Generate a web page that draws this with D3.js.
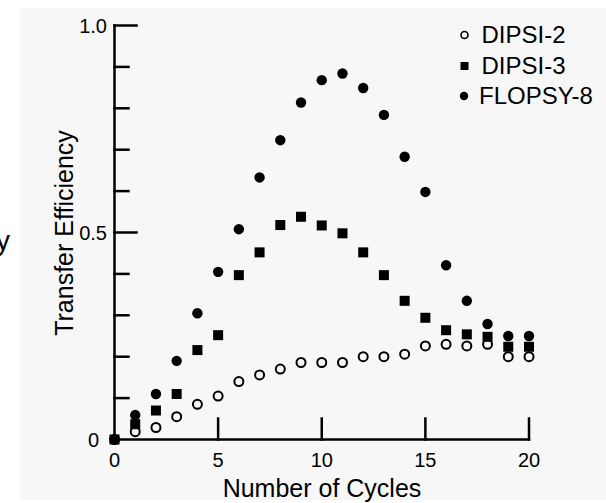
<!DOCTYPE html>
<html>
<head>
<meta charset="utf-8">
<title>Transfer Efficiency</title>
<script src="https://cdnjs.cloudflare.com/ajax/libs/d3/7.8.5/d3.min.js"></script>
<style>
body {
  margin: 0;
  background-color: #ffffff;
}
svg text {
  font-family: "Liberation Sans", Arial, Helvetica, sans-serif;
  fill: #000;
}
</style>
</head>
<body>
<svg width="606" height="503"></svg>
<script>
var cycles = [0, 1, 2, 3, 4, 5, 6, 7, 8, 9, 10, 11, 12, 13, 14, 15, 16, 17, 18, 19, 20];
var dipsi2 = [0, 0.019, 0.029, 0.055, 0.085, 0.105, 0.140, 0.156, 0.170, 0.186, 0.186, 0.186, 0.200, 0.200, 0.206, 0.226, 0.230, 0.226, 0.230, 0.200, 0.200];
var dipsi3 = [0, 0.037, 0.070, 0.110, 0.216, 0.252, 0.397, 0.452, 0.518, 0.538, 0.517, 0.498, 0.452, 0.397, 0.335, 0.294, 0.264, 0.254, 0.248, 0.224, 0.224];
var flopsy8 = [0, 0.059, 0.110, 0.190, 0.305, 0.405, 0.508, 0.633, 0.723, 0.814, 0.868, 0.884, 0.849, 0.784, 0.683, 0.598, 0.421, 0.335, 0.279, 0.250, 0.250];
var seriesNames = ["DIPSI-2", "DIPSI-3", "FLOPSY-8"];
var xTicks = [5, 10, 15, 20];
var xTickLabels = [0, 5, 10, 15, 20];
var yMajor = [0.5, 1.0];
var yMinor = [0.1, 0.2, 0.3, 0.4, 0.6, 0.7, 0.8, 0.9];
var yTickLabels = [0, 0.5, 1.0];

var svg = d3.select("svg");

// grey panel behind the plot
svg.append("rect")
    .attr("x", 20).attr("y", 8)
    .attr("width", 586).attr("height", 492)
    .attr("fill", "#f7f7f7");

// stray glyph at left edge (cut off in the original too)
svg.append("text")
    .attr("x", -4).attr("y", 250)
    .style("font-size", "28px")
    .text("y");

var x = d3.scaleLinear().domain([0, 20]).range([114.5, 529]);
var y = d3.scaleLinear().domain([0, 1]).range([439.5, 25.5]);

var g = svg.append("g");

// y axis
g.append("line")
    .attr("x1", x(0)).attr("x2", x(0))
    .attr("y1", y(1)).attr("y2", y(0));
g.selectAll(".ymaj").data(yMajor)
  .enter().append("line")
    .attr("x1", x(0)).attr("x2", x(0) + 22)
    .attr("y1", function(d) { return y(d); })
    .attr("y2", function(d) { return y(d); });
g.selectAll(".ymin").data(yMinor)
  .enter().append("line")
    .attr("x1", x(0)).attr("x2", x(0) + 14)
    .attr("y1", function(d) { return y(d); })
    .attr("y2", function(d) { return y(d); });

// x axis
g.append("line")
    .attr("x1", x(0)).attr("x2", x(20))
    .attr("y1", y(0)).attr("y2", y(0));
g.selectAll(".xt").data(xTicks)
  .enter().append("line")
    .attr("x1", function(d) { return x(d); })
    .attr("x2", function(d) { return x(d); })
    .attr("y1", y(0)).attr("y2", y(0) - 21);

g.selectAll("line")
    .attr("stroke", "#000")
    .attr("stroke-width", 2.5)
    .attr("stroke-linecap", "square");

// tick labels
g.selectAll(".xl").data(xTickLabels)
  .enter().append("text")
    .attr("x", function(d) { return x(d); })
    .attr("y", 467)
    .attr("text-anchor", "middle")
    .style("font-size", "20px")
    .text(function(d) { return d; });

g.selectAll(".yl").data(yTickLabels)
  .enter().append("text")
    .attr("x", function(d) { return d === 0 ? 99 : 107; })
    .attr("y", function(d) { return y(d) + 7; })
    .attr("text-anchor", "end")
    .style("font-size", "20px")
    .text(function(d) { return d === 0 ? "0" : d3.format(".1f")(d); });

// axis titles
svg.append("text")
    .attr("x", 322).attr("y", 497)
    .attr("text-anchor", "middle")
    .style("font-size", "25px")
    .text("Number of Cycles");

svg.append("text")
    .attr("transform", "translate(73,233) rotate(-90)")
    .attr("text-anchor", "middle")
    .style("font-size", "25px")
    .text("Transfer Efficiency");

// data
var d2 = cycles.map(function(c, i) { return {c: c, v: dipsi2[i]}; });
var d3s = cycles.map(function(c, i) { return {c: c, v: dipsi3[i]}; });
var f8 = cycles.map(function(c, i) { return {c: c, v: flopsy8[i]}; });

g.selectAll(".open").data(d2)
  .enter().append("circle")
    .attr("cx", function(d) { return x(d.c); })
    .attr("cy", function(d) { return y(d.v); })
    .attr("r", 4.5)
    .attr("fill", "#f7f7f7")
    .attr("stroke", "#000")
    .attr("stroke-width", 2);

g.selectAll(".dot").data(f8)
  .enter().append("circle")
    .attr("cx", function(d) { return x(d.c); })
    .attr("cy", function(d) { return y(d.v); })
    .attr("r", 5.2)
    .attr("fill", "#000");

g.selectAll(".sq").data(d3s)
  .enter().append("rect")
    .attr("x", function(d) { return x(d.c) - 5; })
    .attr("y", function(d) { return y(d.v) - 5; })
    .attr("width", 10)
    .attr("height", 10)
    .attr("fill", "#000");

// legend
var legend = svg.append("g");
var ly = [35, 66, 96];
legend.append("circle")
    .attr("cx", 464.5).attr("cy", ly[0]).attr("r", 3.5)
    .attr("fill", "none").attr("stroke", "#000").attr("stroke-width", 1.6);
legend.append("rect")
    .attr("x", 460.5).attr("y", ly[1] - 4).attr("width", 8).attr("height", 8)
    .attr("fill", "#000");
legend.append("circle")
    .attr("cx", 464).attr("cy", ly[2]).attr("r", 4.2)
    .attr("fill", "#000");
legend.selectAll("text").data(seriesNames)
  .enter().append("text")
    .attr("x", function(d, i) { return i === 2 ? 479 : 481.5; })
    .attr("y", function(d, i) { return ly[i] + 8; })
    .style("font-size", "24px")
    .text(function(d) { return d; });
</script>
</body>
</html>
